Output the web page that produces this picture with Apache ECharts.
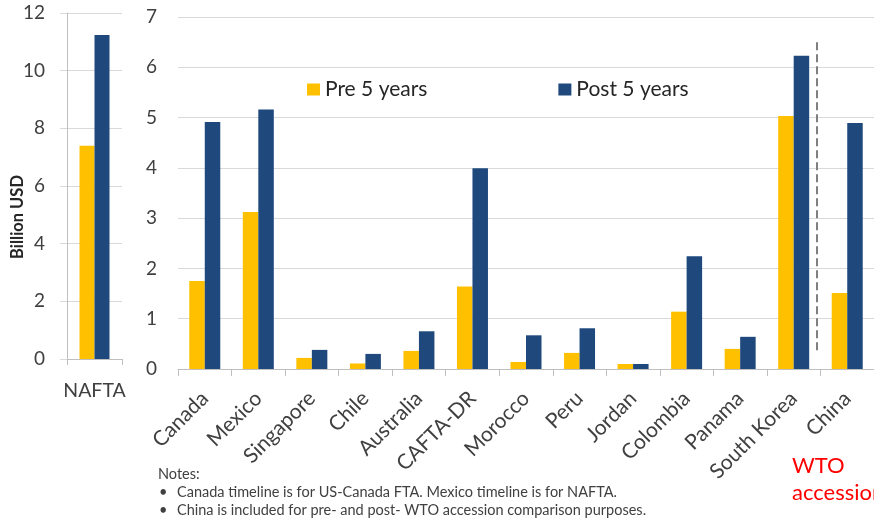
<!DOCTYPE html>
<html>
<head>
<meta charset="utf-8">
<script src="https://cdn.jsdelivr.net/npm/echarts@6/dist/echarts.min.js"></script>
<style>
  html, body { margin: 0; padding: 0; background: #fff; }
  #chart { width: 874px; height: 520px; }
</style>
</head>
<body>
<div id="chart"></div>
<script>
// NAFTA panel (own scale, billion USD)
const naftaCategories = ['NAFTA'];
const naftaPre = [7.4];
const naftaPost = [11.24];

// Individual agreements (billion USD)
const categories = ['Canada', 'Mexico', 'Singapore', 'Chile', 'Australia', 'CAFTA-DR',
  'Morocco', 'Peru', 'Jordan', 'Colombia', 'Panama', 'South Korea', 'China'];
const pre5 = [1.75, 3.12, 0.22, 0.11, 0.36, 1.64, 0.14, 0.32, 0.10, 1.14, 0.40, 5.03, 1.51];
const post5 = [4.91, 5.16, 0.38, 0.30, 0.75, 3.99, 0.67, 0.81, 0.10, 2.24, 0.64, 6.23, 4.89];

const leftTicks = { min: 0, max: 12, interval: 2 };
const rightTicks = { min: 0, max: 7, interval: 1 };

// Separator before China (position on the category scale, in slots)
const wtoDivider = 11.94;

const FONT = 'Lato, "Open Sans", sans-serif';
const GOLD = '#FFC000';
const NAVY = '#1F497D';
const TEXT = '#404040';
const GRID = '#d9d9d9';
const AXIS = '#bfbfbf';

const chart = echarts.init(document.getElementById('chart'));

const noteStyle = (text) => ({ text, fontSize: 14.5, fill: TEXT, fontFamily: FONT, verticalAlign: 'middle' });

chart.setOption({
  animation: false,
  textStyle: { fontFamily: FONT },
  legend: {
    left: 302, top: 74,
    itemWidth: 13, itemHeight: 12, itemGap: 131,
    icon: 'rect',
    textStyle: { fontSize: 21, color: '#262626', fontFamily: FONT },
    data: ['Pre 5 years', 'Post 5 years']
  },
  grid: [
    { left: 67, top: 13, width: 55, height: 346 },
    { left: 178, top: 17, width: 699, height: 352 }
  ],
  xAxis: [
    {
      type: 'category', gridIndex: 0, data: naftaCategories,
      axisLine: { lineStyle: { color: AXIS } },
      axisTick: { show: true, length: 6, lineStyle: { color: AXIS } },
      axisLabel: { fontSize: 19.5, color: TEXT, margin: 22, fontFamily: FONT }
    },
    {
      type: 'category', gridIndex: 1, data: categories,
      axisLine: { lineStyle: { color: AXIS } },
      axisTick: { show: true, length: 7, lineStyle: { color: AXIS } },
      axisLabel: {
        fontSize: 21, color: TEXT, rotate: 45, margin: 26, interval: 0,
        padding: [18, 0, 0, 0], fontFamily: FONT
      }
    },
    {
      type: 'value', gridIndex: 1, min: 0, max: categories.length, show: false
    }
  ],
  yAxis: [
    {
      type: 'value', gridIndex: 0, ...leftTicks,
      axisLine: { show: true, lineStyle: { color: AXIS } },
      axisTick: { show: true, length: 7, lineStyle: { color: GRID } },
      splitLine: { lineStyle: { color: GRID } },
      axisLabel: { fontSize: 19, color: TEXT, margin: 22, fontFamily: FONT }
    },
    {
      type: 'value', gridIndex: 1, ...rightTicks,
      axisLine: { show: false },
      axisTick: { show: false },
      splitLine: { lineStyle: { color: GRID } },
      axisLabel: { fontSize: 19, color: TEXT, margin: 21, fontFamily: FONT }
    }
  ],
  series: [
    {
      name: 'Pre 5 years', type: 'bar', xAxisIndex: 0, yAxisIndex: 0,
      data: naftaPre, barWidth: 15, barGap: '0%', itemStyle: { color: GOLD }
    },
    {
      name: 'Post 5 years', type: 'bar', xAxisIndex: 0, yAxisIndex: 0,
      data: naftaPost, barWidth: 15, barGap: '0%', itemStyle: { color: NAVY }
    },
    {
      name: 'Pre 5 years', type: 'bar', xAxisIndex: 1, yAxisIndex: 1,
      data: pre5, barWidth: 15.5, barGap: '0%', itemStyle: { color: GOLD }
    },
    {
      name: 'Post 5 years', type: 'bar', xAxisIndex: 1, yAxisIndex: 1,
      data: post5, barWidth: 15.5, barGap: '0%', itemStyle: { color: NAVY }
    },
    {
      name: 'divider', type: 'line', xAxisIndex: 2, yAxisIndex: 1,
      data: [], silent: true,
      markLine: {
        silent: true, symbol: 'none', label: { show: false },
        lineStyle: { color: '#7f7f7f', width: 2, type: [8, 4] },
        data: [[{ coord: [wtoDivider, 6.5] }, { coord: [wtoDivider, 0.3] }]]
      }
    }
  ],
  graphic: [
    {
      type: 'text', x: 18, y: 217, rotation: Math.PI / 2,
      style: {
        text: 'Billion USD', fontSize: 16.5, fontWeight: 'bold', fill: '#262626',
        fontFamily: FONT, align: 'center', verticalAlign: 'middle'
      }
    },
    {
      type: 'text', x: 792, y: 452,
      style: {
        text: 'WTO\naccession', fontSize: 22, lineHeight: 27, fill: '#FF0000',
        fontFamily: FONT, align: 'left', verticalAlign: 'top'
      }
    },
    { type: 'text', x: 158, y: 474, style: noteStyle('Notes:') },
    { type: 'text', x: 159, y: 492, style: noteStyle('\u2022') },
    { type: 'text', x: 177, y: 492, style: noteStyle('Canada timeline is for US-Canada FTA. Mexico timeline is for NAFTA.') },
    { type: 'text', x: 159, y: 510, style: noteStyle('\u2022') },
    { type: 'text', x: 177, y: 510, style: noteStyle('China is included for pre- and post- WTO accession comparison purposes.') }
  ]
});
</script>
</body>
</html>
